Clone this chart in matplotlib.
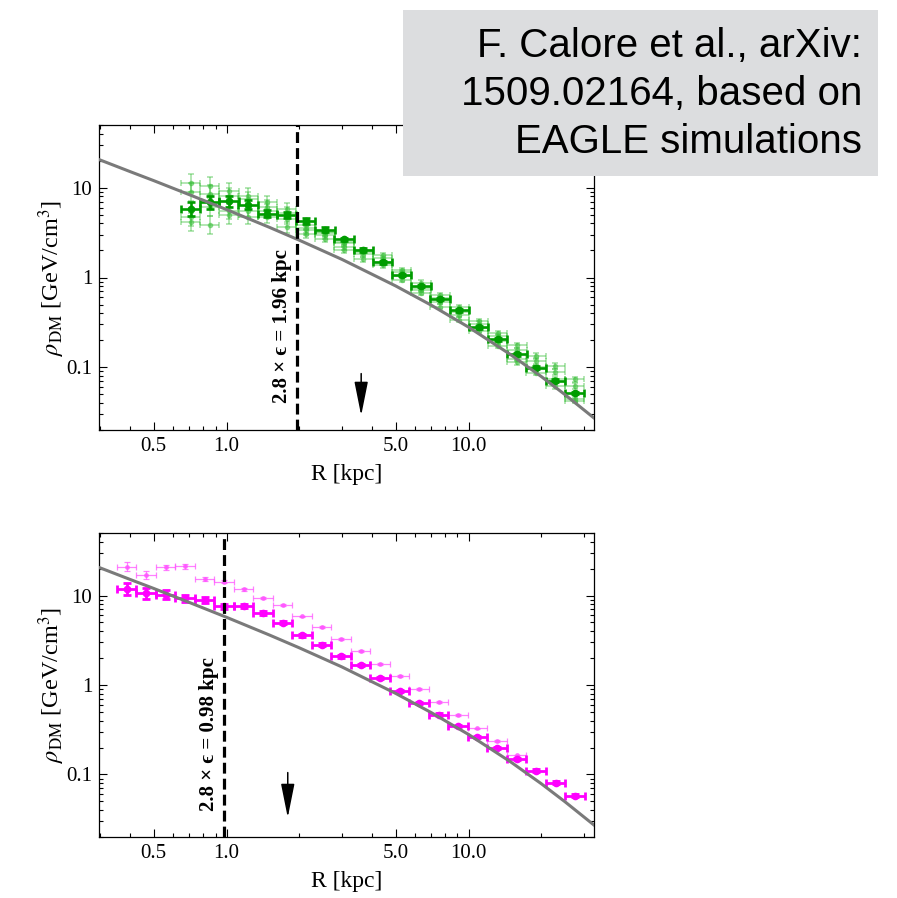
import numpy as np
import matplotlib
matplotlib.use('Agg')
import matplotlib.pyplot as plt
from matplotlib.patches import Rectangle
from matplotlib.ticker import FixedLocator, FixedFormatter, NullFormatter

plt.rcParams['font.family'] = ['Liberation Serif', 'DejaVu Serif']
plt.rcParams['mathtext.fontset'] = 'stix'

##################
## Data (read) ##
##################
# reference profile (grey curve), R [kpc] -> rho [GeV/cm^3]
curve_R = [0.3, 0.4, 0.5, 0.7, 1.0, 1.5, 2.0, 3.0, 5.0, 7.0, 10.0, 15.0, 20.0, 25.0, 33.0]
curve_rho = [20.4, 15.1, 12.0, 8.39, 5.71, 3.63, 2.60, 1.59, 0.805, 0.493, 0.280, 0.137, 0.0787, 0.0497, 0.0272]

BIN_HALF_DEX = 0.04  # half width of the radial bins (log10)

# top panel (green)
green_R = [0.710, 0.852, 1.023, 1.228, 1.474, 1.770, 2.125, 2.551, 3.062, 3.675, 4.412,
           5.297, 6.358, 7.632, 9.163, 11.00, 13.21, 15.85, 19.02, 22.84, 27.42]
green_main = [5.82, 6.89, 7.06, 6.45, 5.12, 4.99, 4.24, 3.41, 2.66, 2.01, 1.48,
              1.07, 0.806, 0.574, 0.430, 0.279, 0.204, 0.139, 0.0993, 0.0706, 0.0516]
green_main_err = [0.08, 0.07, 0.06, 0.05, 0.04, 0.035, 0.03, 0.025, 0.02, 0.02, 0.015,
                  0.015, 0.015, 0.015, 0.015, 0.015, 0.015, 0.015, 0.015, 0.015, 0.015]
green_other = [
    [11.2, 10.5, 9.27, 8.16, 6.88, 5.82, 3.80, 3.21, 2.49, 2.01, 1.77,
     1.21, 0.877, 0.641, 0.469, 0.325, 0.242, 0.175, 0.133, 0.103, 0.0736],
    [8.87, 8.52, 8.16, 7.50, 6.17, 5.29, 3.52, 3.10, 2.41, 1.91, 1.64,
     1.15, 0.728, 0.593, 0.385, 0.306, 0.222, 0.155, 0.117, 0.0887, 0.0621],
    [4.70, 6.06, 5.57, 5.57, 5.57, 4.51, 3.35, 2.95, 2.19, 1.82, 1.37,
     0.938, 0.669, 0.475, 0.339, 0.252, 0.172, 0.125, 0.0873, 0.0621, 0.0443],
    [4.14, 3.80, 4.91, 4.70, 4.70, 3.64, 3.08, 2.71, 2.01, 1.59, 1.48,
     1.04, 0.766, 0.536, 0.416, 0.277, 0.194, 0.113, 0.100, 0.0736, 0.0424],
]
green_other_err = [0.1, 0.1, 0.09, 0.08, 0.07, 0.06, 0.05, 0.04, 0.035, 0.03, 0.03,
                   0.025, 0.025, 0.025, 0.025, 0.025, 0.025, 0.025, 0.03, 0.03, 0.03]

# bottom panel (magenta)
mag_R = [0.386, 0.465, 0.560, 0.674, 0.811, 0.976, 1.175, 1.415, 1.704, 2.051, 2.470, 2.973,
         3.579, 4.309, 5.187, 6.245, 7.516, 9.050, 10.89, 13.12, 15.79, 19.01, 22.88, 27.55]
mag_main = [11.9, 10.6, 10.2, 9.33, 8.96, 7.60, 7.69, 6.42, 4.98, 3.59, 2.83, 2.10,
            1.67, 1.21, 0.864, 0.631, 0.468, 0.347, 0.262, 0.196, 0.149, 0.110, 0.0809, 0.058]
mag_main_err = [0.07, 0.06, 0.05, 0.04, 0.035, 0.03, 0.025, 0.02, 0.02, 0.015, 0.015, 0.015,
                0.012, 0.012, 0.012, 0.012, 0.012, 0.012, 0.012, 0.012, 0.015, 0.015, 0.015, 0.015]
mag_other = [21.0, 17.1, 20.6, 21.2, 15.3, 14.3, 11.7, 9.43, 7.88, 5.84, 4.45,
             3.30, 2.39, 1.73, 1.26, 0.895, 0.647, 0.464, 0.327, 0.239, 0.163]
mag_other_err = [0.05, 0.045, 0.03, 0.025, 0.02, 0.02, 0.015, 0.012, 0.01, 0.01, 0.01,
                 0.01, 0.01, 0.01, 0.01, 0.01, 0.01, 0.01, 0.01, 0.01, 0.01]

eps_lines = [1.96, 0.98]
arrow_R = [3.6, 1.79]
arrow_y = [(0.085, 0.029), (0.105, 0.033)]


def log_err(vals, dex):
    v = np.asarray(vals, dtype=float)
    d = np.asarray(dex, dtype=float)
    return np.vstack([v * (1 - 10 ** -d), v * (10 ** d - 1)])


def style_axes(ax):
    ax.set_xscale('log')
    ax.set_yscale('log')
    ax.set_xlim(0.297, 33)
    ax.set_ylim(0.02, 50)
    ax.xaxis.set_major_locator(FixedLocator([0.5, 1, 5, 10]))
    ax.xaxis.set_major_formatter(FixedFormatter(['0.5', '1.0', '5.0', '10.0']))
    ax.xaxis.set_minor_locator(FixedLocator([0.3, 0.4, 0.6, 0.7, 0.8, 0.9, 2, 3, 4, 6, 7, 8, 9, 20, 30]))
    ax.xaxis.set_minor_formatter(NullFormatter())
    ax.yaxis.set_major_locator(FixedLocator([0.1, 1, 10]))
    ax.yaxis.set_major_formatter(FixedFormatter(['0.1', '1', '10']))
    ymin = [k * 10.0 ** e for e in (-2, -1, 0, 1) for k in range(2, 10)]
    ax.yaxis.set_minor_locator(FixedLocator(ymin))
    ax.yaxis.set_minor_formatter(NullFormatter())
    ax.tick_params(which='both', direction='in', top=True, right=True, labelsize=15, pad=5, width=0.8)
    ax.tick_params(which='major', length=6)
    ax.tick_params(which='minor', length=3)
    for s in ax.spines.values():
        s.set_linewidth(0.9)
    ax.set_xlabel('R [kpc]', fontsize=17, labelpad=6)
    ax.set_ylabel(r'$\rho_{\rm DM}$ [GeV/cm$^3$]', fontsize=17.5, labelpad=-1)


fig = plt.figure(figsize=(8.97, 8.98), dpi=100)
ax1 = fig.add_axes([99 / 897, 1 - 430 / 898, 495 / 897, 305 / 898])
ax2 = fig.add_axes([99 / 897, 1 - 837 / 898, 495 / 897, 304 / 898])

gR = np.asarray(green_R)
g_xerr = log_err(gR, [BIN_HALF_DEX] * len(gR))
for vals in green_other:
    ax1.errorbar(gR, vals, xerr=g_xerr, yerr=log_err(vals, green_other_err), fmt='o', ms=3,
                 color='#3cc03c', alpha=0.5, elinewidth=1.1, capsize=2.5, capthick=1.1, zorder=2)
ax1.errorbar(gR, green_main, xerr=g_xerr, yerr=log_err(green_main, green_main_err), fmt='o', ms=4.5,
             color='#009c00', elinewidth=1.9, capsize=3, capthick=1.9, zorder=3)

mR = np.asarray(mag_R)
m_xerr = log_err(mR, [BIN_HALF_DEX] * len(mR))
n_o = len(mag_other)
ax2.errorbar(mR[:n_o], mag_other, xerr=m_xerr[:, :n_o], yerr=log_err(mag_other, mag_other_err), fmt='o', ms=2.5,
             color='#ff55ff', alpha=0.75, elinewidth=0.9, capsize=2.5, capthick=0.9, zorder=2)
ax2.errorbar(mR, mag_main, xerr=m_xerr, yerr=log_err(mag_main, mag_main_err), fmt='o', ms=4.5,
             color='#ff00ff', elinewidth=2.0, capsize=3, capthick=2.0, zorder=3)

for ax, eps, aR, (y0, y1) in zip([ax1, ax2], eps_lines, arrow_R, arrow_y):
    ax.plot(curve_R, curve_rho, color='#7a7a7a', lw=2.2, zorder=4)
    ax.axvline(eps, color='k', lw=2.3, ls=(0, (3.4, 1.6)), zorder=5)
    ax.annotate('2.8 \u00d7 \u03f5 = %.2f kpc' % eps, xy=(eps, 0.34),
                xycoords=('data', 'axes fraction'), xytext=(-11, 0), textcoords='offset points',
                rotation=90, ha='center', va='center', fontsize=15, fontweight='bold',
                family=['Liberation Serif', 'DejaVu Serif'])
    ax.annotate('', xy=(aR, y1), xytext=(aR, y0),
                arrowprops=dict(arrowstyle='-|>,head_length=1.5,head_width=0.3', color='k',
                                lw=1.1, mutation_scale=14, shrinkA=0, shrinkB=0))
    style_axes(ax)

# credit box
fig.add_artist(Rectangle((403 / 897, 1 - 176 / 898), 475 / 897, 166 / 898, transform=fig.transFigure,
                         facecolor='#dcdddf', edgecolor='none', zorder=10))
fig.text(862 / 897, 1 - 94 / 898, 'F. Calore et al., arXiv:\n1509.02164, based on\nEAGLE simulations',
         ha='right', va='center', multialignment='right', fontsize=29, family=['Liberation Sans', 'DejaVu Sans'],
         linespacing=1.32, zorder=11)

fig.savefig('out.png', dpi=100)
